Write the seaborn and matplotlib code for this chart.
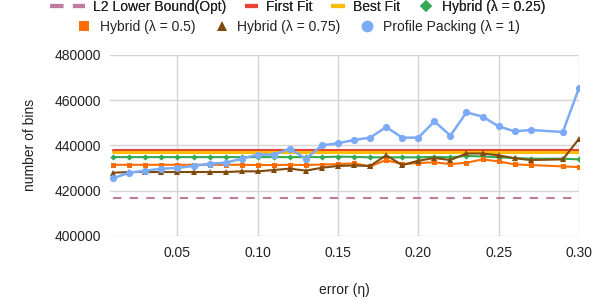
import numpy as np
import pandas as pd
import matplotlib
matplotlib.use("Agg")
import matplotlib.pyplot as plt
import seaborn as sns
from matplotlib.lines import Line2D
from matplotlib.legend_handler import HandlerLine2D
from matplotlib.ticker import StrMethodFormatter

# ---------------- data ----------------
eta = [0.01, 0.02, 0.03, 0.04, 0.05, 0.06, 0.07, 0.08, 0.09, 0.10,
       0.11, 0.12, 0.13, 0.14, 0.15, 0.16, 0.17, 0.18, 0.19, 0.20,
       0.21, 0.22, 0.23, 0.24, 0.25, 0.26, 0.27, 0.29, 0.30]

l2_lower_bound = 416700
first_fit = 438000
best_fit = 437000

hybrid_025 = [434800, 434800, 434800, 434800, 434800, 434800, 434800, 434800, 434800, 434800,
              434800, 434800, 434800, 434800, 435000, 434900, 434700, 434700, 434700, 434700,
              434900, 434700, 435300, 435100, 434700, 434400, 434100, 434100, 433800]

hybrid_05 = [431400, 431400, 431400, 431400, 431400, 431400, 431400, 431400, 431400, 431300,
             431300, 431400, 431300, 431500, 431700, 432000, 430700, 433500, 431600, 432200,
             432500, 431700, 432300, 433800, 432900, 431600, 431300, 430700, 430400]

hybrid_075 = [427900, 428200, 428200, 428200, 428200, 428200, 428200, 428200, 428500, 428500,
              429100, 429700, 428800, 430100, 430900, 431100, 430900, 435600, 431300, 433200,
              434400, 433500, 436400, 436400, 435600, 434300, 433500, 433800, 442800]

profile_packing = [425500, 427900, 428800, 429700, 430000, 430900, 431900, 432300, 434100, 435900,
                   435900, 438500, 434100, 440000, 440900, 442400, 443400, 448100, 443400, 443400,
                   450600, 444300, 454600, 452700, 448400, 446200, 446800, 445900, 465200]

labels = ["L2 Lower Bound(Opt)", "First Fit", "Best Fit", "Hybrid (λ = 0.25)",
          "Hybrid (λ = 0.5)", "Hybrid (λ = 0.75)", "Profile Packing (λ = 1)"]
y_ticks = [400000, 420000, 440000, 460000, 480000]
x_ticks = [0.05, 0.10, 0.15, 0.20, 0.25, 0.30]
x_tick_labels = ["0.05", "0.10", "0.15", "0.20", "0.25", "0.30"]

colors = ["#c27ba0", "#ea4335", "#fbbc04", "#34a853", "#ff6d01", "#7f4a0c", "#7baaf7"]

# ---------------- style ----------------
sns.set_theme(style="white")
plt.rcParams["font.family"] = ["Liberation Sans", "DejaVu Sans"]
text_color = "#222222"

fig = plt.figure(figsize=(5.98, 3.0), dpi=100)
ax = fig.add_axes([0.184, 0.214, 0.784, 0.603])

n = len(eta)
df = pd.DataFrame({
    "eta": eta,
    "l2": [l2_lower_bound] * n,
    "ff": [first_fit] * n,
    "bf": [best_fit] * n,
    "h25": hybrid_025,
    "h50": hybrid_05,
    "h75": hybrid_075,
    "pp": profile_packing,
})

sns.lineplot(data=df, x="eta", y="l2", ax=ax, color=colors[0], lw=1.5,
             dashes=False, zorder=2).lines[-1].set_dashes([4, 4])
sns.lineplot(data=df, x="eta", y="ff", ax=ax, color=colors[1], lw=2.2, zorder=3)
sns.lineplot(data=df, x="eta", y="bf", ax=ax, color=colors[2], lw=2.2, zorder=3)
sns.lineplot(data=df, x="eta", y="h25", ax=ax, color=colors[3], lw=1.5,
             marker="D", markersize=3.2, markeredgewidth=0, zorder=4)
sns.lineplot(data=df, x="eta", y="h50", ax=ax, color=colors[4], lw=1.5,
             marker="s", markersize=3.6, markeredgewidth=0, zorder=5)
sns.lineplot(data=df, x="eta", y="h75", ax=ax, color=colors[5], lw=1.5,
             marker="^", markersize=4, markeredgewidth=0, zorder=6)
sns.lineplot(data=df, x="eta", y="pp", ax=ax, color=colors[6], lw=1.8,
             marker="o", markersize=5.2, markeredgewidth=0, zorder=7)

ax.set_xlim(0.008, 0.30)
ax.set_ylim(400000, 480000)
ax.set_xticks(x_ticks)
ax.set_xticklabels(x_tick_labels)
ax.set_yticks(y_ticks)
ax.yaxis.set_major_formatter(StrMethodFormatter("{x:.0f}"))
ax.grid(True, color="#d4d4d4", lw=1.0)
ax.set_axisbelow(True)
for s in ax.spines.values():
    s.set_visible(False)
ax.tick_params(axis="both", length=0, labelsize=10, colors=text_color)
ax.tick_params(axis="y", pad=6.5)
ax.tick_params(axis="x", pad=7)
ax.set_xlabel("error (η)", fontsize=10, color=text_color, labelpad=17)
ax.set_ylabel("number of bins", fontsize=10, color=text_color, labelpad=12.5)

# ---------------- legend ----------------
class WidthHandler(HandlerLine2D):
    def __init__(self, width, **kw):
        super().__init__(**kw)
        self.width = width

    def legend_artist(self, legend, orig_handle, fontsize, handlebox):
        handlebox.width = self.width
        return super().legend_artist(legend, orig_handle, fontsize, handlebox)

h_l2 = Line2D([], [], color=colors[0], lw=3, dashes=[3.2, 2.3], solid_capstyle="butt", dash_capstyle="butt")
h_ff = Line2D([], [], color=colors[1], lw=3, solid_capstyle="butt")
h_bf = Line2D([], [], color=colors[2], lw=3, solid_capstyle="butt")
h_25 = Line2D([], [], color=colors[3], ls="none", marker="D", markersize=6.5, markeredgewidth=0)
h_50 = Line2D([], [], color=colors[4], ls="none", marker="s", markersize=6.5, markeredgewidth=0)
h_75 = Line2D([], [], color=colors[5], ls="none", marker="^", markersize=7, markeredgewidth=0)
h_pp = Line2D([], [], color=colors[6], ls="none", marker="o", markersize=8.5, markeredgewidth=0)

common = dict(loc="center", frameon=False, fontsize=10, handletextpad=0.57,
              columnspacing=1.3, borderpad=0, borderaxespad=0, labelcolor=text_color)

leg1 = fig.legend([h_l2, h_ff, h_bf, h_25], labels[:4], ncol=4,
                  bbox_to_anchor=(0.498, 0.976),
                  handler_map={h_l2: WidthHandler(25.2), h_ff: WidthHandler(10),
                               h_bf: WidthHandler(10), h_25: WidthHandler(11.5)},
                  **common)
leg2 = fig.legend([h_50, h_75, h_pp], labels[4:], ncol=3,
                  bbox_to_anchor=(0.498, 0.911),
                  handler_map={h_50: WidthHandler(11.5), h_75: WidthHandler(11.5),
                               h_pp: WidthHandler(11.5)},
                  **common)
fig.add_artist(leg1)

fig.savefig("out.png", dpi=100)
